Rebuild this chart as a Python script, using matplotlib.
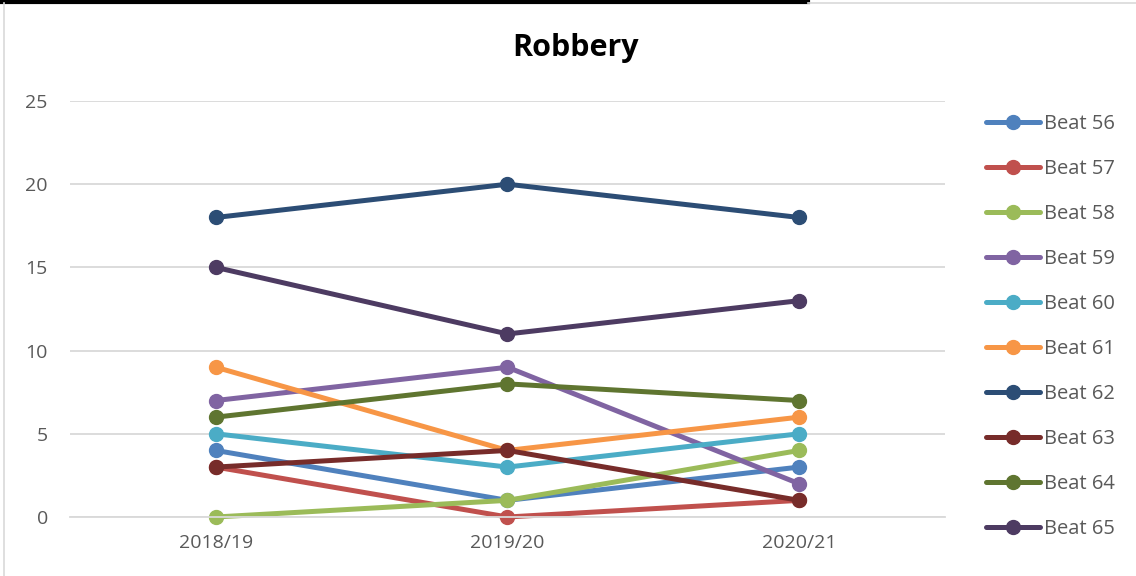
import matplotlib.pyplot as plt
from matplotlib.lines import Line2D

years = ['2018/19', '2019/20', '2020/21']
beats = ['Beat 56', 'Beat 57', 'Beat 58', 'Beat 59', 'Beat 60',
         'Beat 61', 'Beat 62', 'Beat 63', 'Beat 64', 'Beat 65']
beat56 = [4, 1, 3]
beat57 = [3, 0, 1]
beat58 = [0, 1, 4]
beat59 = [7, 9, 2]
beat60 = [5, 3, 5]
beat61 = [9, 4, 6]
beat62 = [18, 20, 18]
beat63 = [3, 4, 1]
beat64 = [6, 8, 7]
beat65 = [15, 11, 13]
series = [beat56, beat57, beat58, beat59, beat60,
          beat61, beat62, beat63, beat64, beat65]
colors = ['#4F81BD', '#C0504D', '#9BBB59', '#8064A2', '#4BACC6',
          '#F79646', '#2C4D75', '#772C2A', '#5F7530', '#4D3B62']

plt.rcParams['font.family'] = ['Open Sans', 'DejaVu Sans']

fig = plt.figure(figsize=(11.36, 5.76), dpi=100)
ax = fig.add_axes([70 / 1136, 1 - 517 / 576, 875 / 1136, 416 / 576])

x = range(len(years))
for name, vals, c in zip(beats, series, colors):
    ax.plot(x, vals, color=c, linewidth=3.6, marker='o', markersize=10,
            solid_capstyle='round', label=name)

ax.set_xlim(-0.5, 2.5)
ax.set_ylim(0, 25)
ax.set_yticks([0, 5, 10, 15, 20, 25])
ax.set_xticks(list(x))
ax.set_xticklabels(years)
ax.yaxis.grid(True, color='#D9D9D9', linewidth=1.3)
ax.set_axisbelow(True)
for s in ['top', 'right', 'left']:
    ax.spines[s].set_visible(False)
ax.spines['bottom'].set_color('#D9D9D9')
ax.spines['bottom'].set_linewidth(1.3)
ax.tick_params(length=0, labelsize=14, colors='#595959', pad=12)
ax.tick_params(axis='y', pad=16)
for ln in ax.lines:
    ln.set_clip_on(False)

fig.text(576 / 1136, 1 - 48 / 576, 'Robbery', ha='center', va='center',
         fontsize=22, fontweight='bold', color='black')

fig.legend(loc='upper left', bbox_to_anchor=(978 / 1136, 1 - 106 / 576),
           frameon=False, fontsize=14.5, labelcolor='#595959',
           handlelength=2.7, handletextpad=0.2, labelspacing=1.24,
           borderaxespad=0)

# chart frame
fig.add_artist(Line2D([0, 808 / 1136], [1 - 2 / 576, 1 - 2 / 576],
                      transform=fig.transFigure, color='black', linewidth=3))
fig.add_artist(Line2D([808 / 1136, 1], [1 - 3 / 576, 1 - 3 / 576],
                      transform=fig.transFigure, color='#D9D9D9', linewidth=1.2))
fig.add_artist(Line2D([4 / 1136, 4 / 1136], [0, 1 - 3 / 576],
                      transform=fig.transFigure, color='#D9D9D9', linewidth=1.2))

fig.savefig('out.png', dpi=100)
